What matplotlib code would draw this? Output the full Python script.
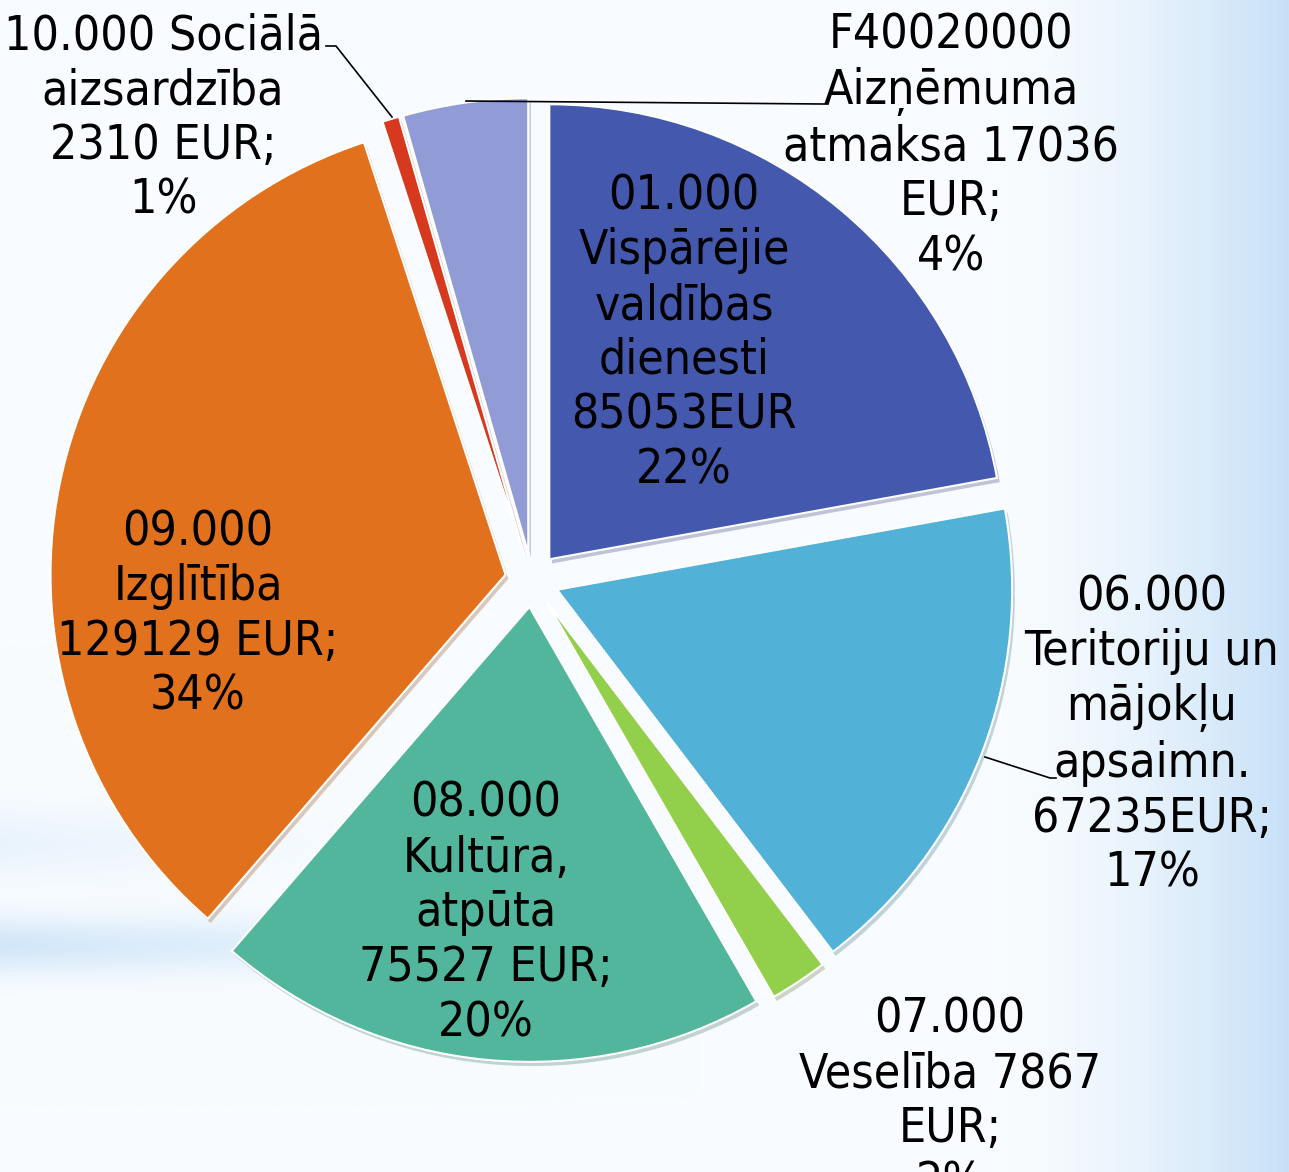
import numpy as np
import matplotlib
matplotlib.use('Agg')
import matplotlib.pyplot as plt
from matplotlib import patheffects as pe
from matplotlib import font_manager as fm
import glob, os

# ---- data ----
codes = ["01.000", "06.000", "07.000", "08.000", "09.000", "10.000", "F40020000"]
values = [85053, 67235, 7867, 75527, 129129, 2310, 17036]
labels = [
    "01.000\nVispārējie\nvaldības\ndienesti\n85053EUR\n22%",
    "06.000\nTeritoriju un\nmājokļu\napsaimn.\n67235EUR;\n17%",
    "07.000\nVeselība 7867\nEUR;\n2%",
    "08.000\nKultūra,\natpūta\n75527 EUR;\n20%",
    "09.000\nIzglītība\n129129 EUR;\n34%",
    "10.000 Sociālā\naizsardzība\n2310 EUR;\n1%",
    "F40020000\nAizņēmuma\natmaksa 17036\nEUR;\n4%",
]
colors = ['#4459AE', '#51B1D6', '#92CF4A', '#52B69C', '#E1711D', '#D7391F', '#919BD6']

# ---- pick a narrow font if available ----
font_file = None
files = [f.fname for f in fm.fontManager.ttflist]
extra = glob.glob('/usr/share/fonts/**/*.ttf', recursive=True)
allfiles = files + extra
for key in ['LiberationSansNarrow-Regular', 'DejaVuSansCondensed.ttf']:
    for f in allfiles:
        if key in os.path.basename(f):
            font_file = f
            break
    if font_file:
        break
if font_file:
    fprop = fm.FontProperties(fname=font_file, size=34.5)
else:
    fprop = fm.FontProperties(family='DejaVu Sans', size=32)

W, H = 1289, 1172
fig = plt.figure(figsize=(W / 100, H / 100), dpi=100)
ax = fig.add_axes([0, 0, 1, 1])

# ---- background gradient ----
yy, xx = np.mgrid[0:H, 0:W]
base = np.array([0.975, 0.988, 1.0])
blue = np.array([0.78, 0.88, 0.97])
t = np.clip((xx - 1000) / (W - 1000), 0, 1) ** 1.5
band = np.exp(-((yy - 945) / 28.0) ** 2) * np.clip(1 - xx / 700, 0, 1) * 0.75
band2 = np.exp(-((yy - 843) / 35.0) ** 2) * np.clip(1 - xx / 400, 0, 1) * 0.3
m = np.clip(t + band + band2, 0, 1)[..., None]
bg = base * (1 - m) + blue * m
ax.imshow(bg, extent=(0, W, 0, H), origin='upper', zorder=0, aspect='auto')

def Y(y):
    return H - y

cx, cy, R = 532, 580, 455
shadow = [pe.SimplePatchShadow(offset=(2, -3), alpha=0.28, rho=0.6), pe.Normal()]
ax.pie(values, colors=colors, startangle=90, counterclock=False,
       explode=[27] * len(values), radius=R, center=(cx, Y(cy)),
       wedgeprops=dict(edgecolor='white', linewidth=1.5, path_effects=shadow))

ax.set_xlim(0, W)
ax.set_ylim(0, H)
ax.set_aspect('auto')
ax.axis('off')

label_pos = [(684, 333), (1152, 735), (950, 1101), (486, 913), (198, 614), (163, 118), (951, 146)]
for lab, (lx, ly) in zip(labels, label_pos):
    ax.text(lx, Y(ly), lab, ha='center', va='center', fontproperties=fprop,
            linespacing=1.21, color='black', zorder=5)

# leader lines
ax.plot([326, 336, 392], [Y(46), Y(46), Y(117)], color='black', lw=1.2, zorder=4)
ax.plot([466, 822, 828], [Y(101), Y(104), Y(104)], color='black', lw=1.2, zorder=4)
ax.plot([985, 1050, 1056], [Y(757), Y(778), Y(778)], color='black', lw=1.2, zorder=4)

fig.savefig('out.png', dpi=100)
